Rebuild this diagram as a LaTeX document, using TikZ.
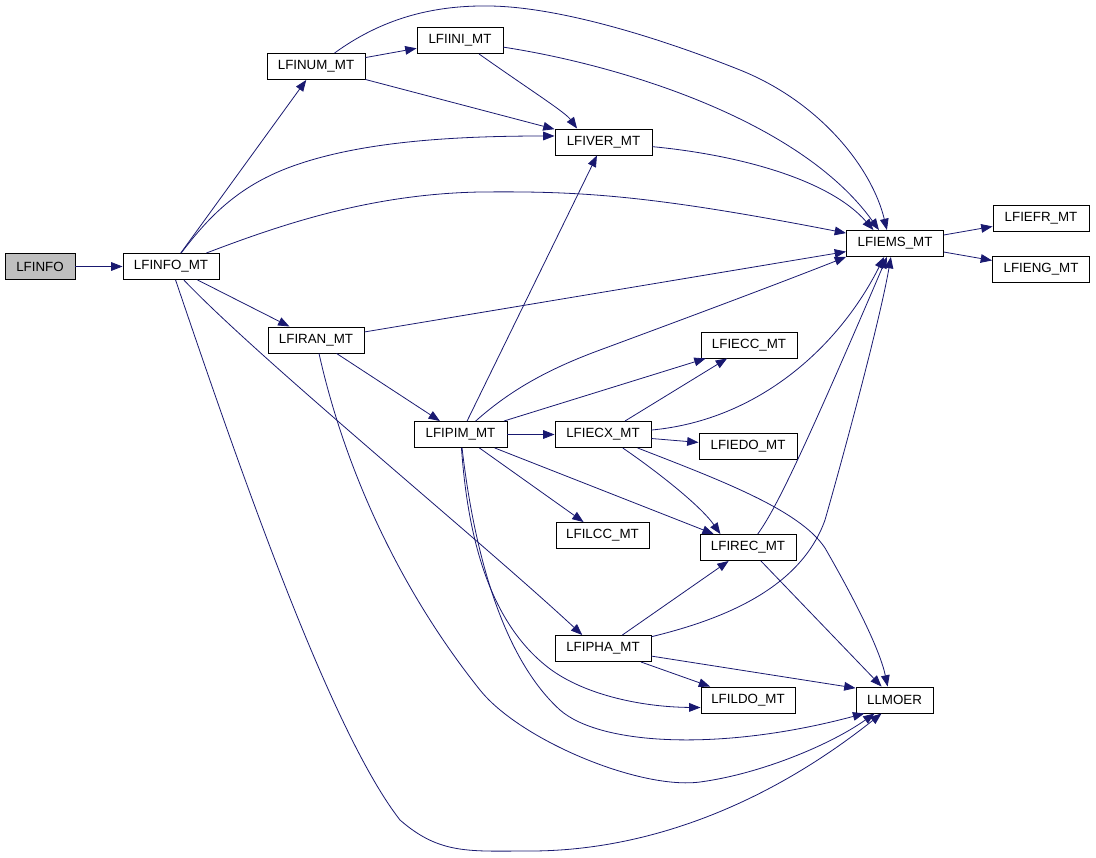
\documentclass[tikz,border=0pt]{standalone}
\usepackage{fontspec}
\setmainfont{Liberation Sans}
\usetikzlibrary{arrows.meta}
\definecolor{edgeblue}{HTML}{191970}
\definecolor{rootgray}{HTML}{BFBFBF}
\tikzset{
  fn/.style={draw=black, line width=0.7pt, minimum width=72pt, minimum height=19.5pt,
    inner sep=0pt, font=\fontsize{10}{12}\selectfont},
  root/.style={fn, fill=rootgray},
  call/.style={draw=edgeblue, line width=0.6pt, -{Triangle[length=8.5pt,width=6.5pt]}},
}

\begin{document}
\begin{tikzpicture}[x=0.75pt, y=-0.75pt]
\useasboundingbox (0,0) rectangle (1096,857);

           \node[root, minimum width=52.5pt] (LFINFO) at (40,266.5) {LFINFO};
           \node[fn] (LFINFOMT) at (171,266.5) {LFINFO\_MT};
           \node[fn, minimum width=73.5pt] (LFINUM) at (316,66.5) {LFINUM\_MT};
           \node[fn, minimum width=64.5pt] (LFIINI) at (460,40.5) {LFIINI\_MT};
           \node[fn, minimum width=72.75pt] (LFIVER) at (603.5,142) {LFIVER\_MT};
           \node[fn, minimum width=72.75pt] (LFIEMS) at (895,243.5) {LFIEMS\_MT};
           \node[fn] (LFIEFR) at (1041,218) {LFIEFR\_MT};
           \node[fn, minimum width=72.75pt] (LFIENG) at (1041,269) {LFIENG\_MT};
           \node[fn] (LFIRAN) at (316,340) {LFIRAN\_MT};
           \node[fn] (LFIECC) at (749,345) {LFIECC\_MT};
           \node[fn, minimum width=69.75pt] (LFIPIM) at (460.5,434.5) {LFIPIM\_MT};
           \node[fn] (LFIECX) at (603,434.5) {LFIECX\_MT};
           \node[fn, minimum width=73.5pt] (LFIEDO) at (748,446.5) {LFIEDO\_MT};
           \node[fn, minimum width=69.75pt] (LFILCC) at (602.5,535.5) {LFILCC\_MT};
           \node[fn] (LFIREC) at (748,547.5) {LFIREC\_MT};
           \node[fn] (LFIPHA) at (603,648.5) {LFIPHA\_MT};
           \node[fn, minimum width=70.5pt] (LFILDO) at (748,700) {LFILDO\_MT};
           \node[fn, minimum width=57.75pt] (LLMOER) at (894.5,700) {LLMOER};

           \draw[call] (LFINFO) -- (LFINFOMT);
           \draw[call] (LFINFOMT) -- (LFINUM);
           \draw[call] (LFINFOMT) .. controls (210,215) and (240,185) .. (293,166)
                                  .. controls (360,142) and (450,136) .. (LFIVER.173);
           \draw[call] (LFINFOMT) .. controls (280,225) and (370,194) .. (480,192)
                                  .. controls (580,191) and (650,195) .. (LFIEMS.168);
           \draw[call] (LFINFOMT) -- (LFIRAN);
           \draw[call] (LFINFOMT) .. controls (260,360) and (480,540) .. (LFIPHA.147);
           \draw[call] (LFINFOMT) .. controls (240,470) and (330,730) .. (400,820)
                                  .. controls (440,855) and (470,851) .. (530,851)
                                  .. controls (640,851) and (760,810) .. (LLMOER.226);

           \draw[call] (LFINUM) -- (LFIINI);
           \draw[call] (LFINUM) -- (LFIVER);
           \draw[call] (LFINUM) .. controls (380,20) and (430,5) .. (490,6)
                                .. controls (560,7) and (660,38) .. (740,70)
                                .. controls (820,102) and (872,168) .. (LFIEMS.121);
           \draw[call] (LFIINI) .. controls (530,90) and (565,112) .. (LFIVER.153);
           \draw[call] (LFIINI) .. controls (620,65) and (800,120) .. (LFIEMS.140);
           \draw[call] (LFIVER) .. controls (740,155) and (830,180) .. (LFIEMS.148);

           \draw[call] (LFIEMS) -- (LFIEFR);
           \draw[call] (LFIEMS) -- (LFIENG);

           \draw[call] (LFIRAN) -- (LFIEMS);
           \draw[call] (LFIRAN) -- (LFIPIM);
           \draw[call] (LFIRAN) .. controls (345,470) and (400,590) .. (480,690)
                                .. controls (520,740) and (640,790) .. (700,782)
                                .. controls (760,774) and (830,745) .. (LLMOER.214);

           \draw[call] (LFIPIM) -- (LFIVER);
           \draw[call] (LFIPIM) .. controls (505,395) and (540,372) .. (600,350)
                                .. controls (700,313) and (780,283) .. (LFIEMS.south west);
           \draw[call] (LFIPIM) -- (LFIECC);
           \draw[call] (LFIPIM) -- (LFIECX);
           \draw[call] (LFIPIM) -- (LFILCC);
           \draw[call] (LFIPIM) -- (LFIREC);
           \draw[call] (LFIPIM) .. controls (468,540) and (490,620) .. (545,665)
                                .. controls (580,694) and (640,707) .. (LFILDO.189);
           \draw[call] (LFIPIM) .. controls (475,560) and (505,660) .. (560,710)
                                .. controls (600,745) and (720,752) .. (LLMOER.204);

           \draw[call] (LFIECX) -- (LFIECC);
           \draw[call] (LFIECX) .. controls (760,420) and (840,345) .. (LFIEMS.231);
           \draw[call] (LFIECX) -- (LFIEDO);
           \draw[call] (LFIECX) .. controls (655,470) and (700,505) .. (LFIREC.154);
           \draw[call] (LFIECX) .. controls (720,480) and (800,510) .. (825,548)
                                .. controls (855,600) and (880,650) .. (LLMOER.117);

           \draw[call] (LFIREC) .. controls (775,510) and (800,460) .. (LFIEMS.239);
           \draw[call] (LFIREC) -- (LLMOER);

           \draw[call] (LFIPHA) -- (LFIREC);
           \draw[call] (LFIPHA) .. controls (720,620) and (800,590) .. (825,520)
                                .. controls (845,450) and (880,320) .. (LFIEMS.253);
           \draw[call] (LFIPHA) -- (LFILDO);
           \draw[call] (LFIPHA) -- (LLMOER.163);

\end{tikzpicture}
\end{document}
